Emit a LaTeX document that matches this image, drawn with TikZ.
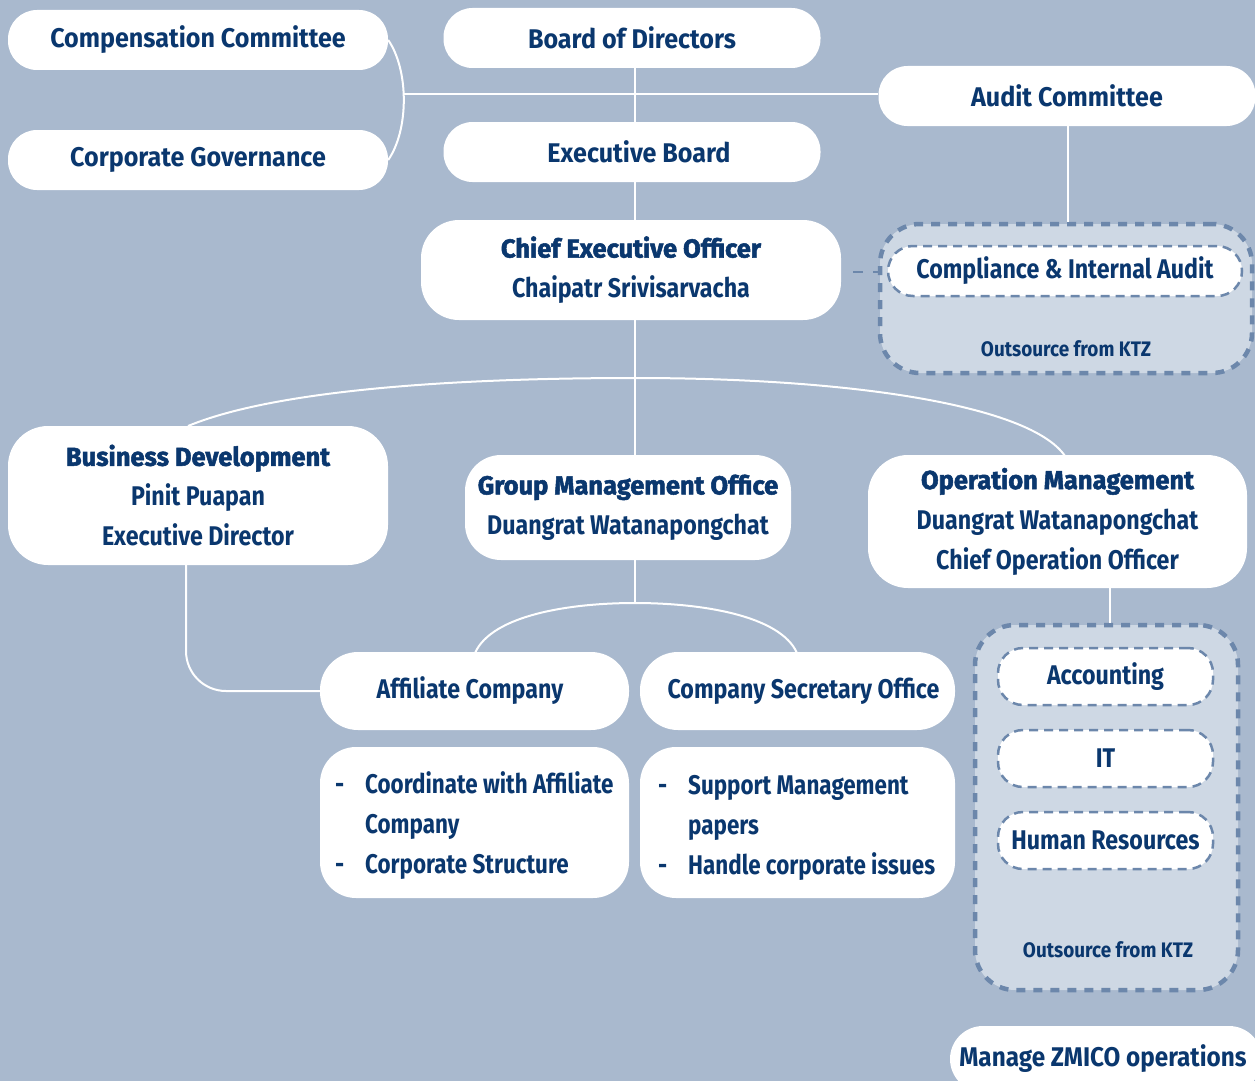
\documentclass[tikz,border=0pt]{standalone}
\usepackage{fontspec}
\newfontfamily\lab{Fira Sans}[FakeStretch=0.86]
\newfontfamily\labt{Fira Sans}[FakeStretch=0.93]
\newfontfamily\labd{Fira Sans}[FakeStretch=0.83]
\newfontfamily\labs{Fira Sans}[FakeStretch=0.9]
\newfontfamily\labh{Fira Sans}[FakeStretch=0.98,FakeBold=2]
\definecolor{bg}{RGB}{169,185,206}
\definecolor{navy}{RGB}{10,55,110}
\definecolor{lightfill}{RGB}{206,216,228}
\definecolor{dashc}{RGB}{108,135,171}
\newcommand{\rf}{\lab\bfseries\fontsize{27}{40}\selectfont}
\newcommand{\rft}{\labt\bfseries\fontsize{27}{40}\selectfont}
\newcommand{\rfd}{\labd\bfseries\fontsize{27}{40}\selectfont}
\newcommand{\bh}{\labh\bfseries\fontsize{26}{40}\selectfont}
\newcommand{\smf}{\labs\bfseries\fontsize{21}{26}\selectfont}
\tikzset{
  box/.style={fill=white, draw=none, inner sep=0pt, text=navy, font=\rf, align=center},
  pill/.style={box, rounded corners=29pt, minimum height=60pt, font=\rft},
  outerdash/.style={fill=lightfill, draw=dashc, line width=4.5pt, dash pattern=on 9pt off 8pt, rounded corners=40pt, inner sep=0pt},
  innerdash/.style={box, draw=dashc, line width=2.5pt, dash pattern=on 9pt off 6pt, rounded corners=25pt},
  conn/.style={draw=white, line width=2pt},
  txt/.style={text=navy, font=\rfd, inner sep=0pt, anchor=base west},
  smalltxt/.style={text=navy, font=\smf, inner sep=0pt}
}
\begin{document}
\begin{tikzpicture}[x=1pt,y=-1pt]
\useasboundingbox (0,0) rectangle (1255,1081);
\clip (0,0) rectangle (1255,1081);
\fill[bg] (0,0) rectangle (1255,1081);

\coordinate (br) at (403,94);
\coordinate (arcL) at (188,426);
\coordinate (arcTop) at (635,378);
\coordinate (arcR) at (1065,456);
\coordinate (gTop) at (635,603);
\coordinate (gL) at (475,653);
\coordinate (gR) at (797,653);
\coordinate (bdOut) at (186,565);

% top level
\node[pill, minimum width=380pt] (comp) at (198,40) {Compensation Committee};
\node[pill, minimum width=380pt] (gov) at (198,160) {Corporate Governance};
\node[pill, minimum width=377pt] (board) at (632,38) {Board of Directors};
\node[pill, minimum width=377pt] (audit) at (1067,96) {Audit Committee};
\node[pill, minimum width=377pt] (exec) at (632,152) {\hspace*{14pt}Executive Board};
\node[box, rounded corners=38pt, minimum width=420pt, minimum height=100pt] (ceo) at (631,270)
  {{\bh Chief Executive Officer}\\Chaipatr Srivisarvacha};

% compliance group
\node[outerdash, minimum width=372pt, minimum height=149pt] (compout) at (1066,298.5) {};
\node[innerdash, minimum width=354pt, minimum height=50pt] (compin) at (1065,271) {Compliance \& Internal Audit};
\node[smalltxt] (out1) at (1066,349) {Outsource from KTZ};

% second level
\node[box, rounded corners=40pt, minimum width=380pt, minimum height=139pt] (bd) at (198,495.5)
  {{\bh Business Development}\\Pinit Puapan\\Executive Director};
\node[box, rounded corners=36pt, minimum width=326pt, minimum height=105pt] (gmo) at (628,507.5)
  {{\bh Group Management Office}\\Duangrat Watanapongchat};
\node[box, rounded corners=40pt, minimum width=379pt, minimum height=133pt] (om) at (1057.5,521.5)
  {{\bh Operation Management}\\Duangrat Watanapongchat\\Chief Operation Officer};

% third level
\node[box, rounded corners=38pt, minimum width=309pt, minimum height=78pt] (aff) at (474.5,691) {\hspace*{-9pt}Affiliate Company};
\node[box, rounded corners=38pt, minimum width=315pt, minimum height=78pt] (cso) at (797.5,691) {\hspace*{12pt}Company Secretary Office};
\node[box, rounded corners=36pt, minimum width=309pt, minimum height=151pt] (affd) at (474.5,822.5) {};
\node[box, rounded corners=36pt, minimum width=315pt, minimum height=151pt] (csod) at (797.5,822.5) {};
\node[txt] (a1d) at (335,793) {-};
\node[txt] (a1) at (365,793) {Coordinate with Affiliate};
\node[txt] (a2) at (365,833) {Company};
\node[txt] (a3d) at (335,873) {-};
\node[txt] (a3) at (365,873) {Corporate Structure};
\node[txt] (c1d) at (658,794) {-};
\node[txt] (c1) at (688,794) {Support Management};
\node[txt] (c2) at (688,834) {papers};
\node[txt] (c3d) at (658,874) {-};
\node[txt] (c3) at (688,874) {Handle corporate issues};

% operations group
\node[outerdash, minimum width=263pt, minimum height=365pt] (opsout) at (1106.5,807.5) {};
\node[innerdash, minimum width=215pt, minimum height=57pt] (acc) at (1105.5,676.5) {Accounting};
\node[innerdash, minimum width=215pt, minimum height=57pt] (it) at (1105.5,758.5) {IT};
\node[innerdash, minimum width=215pt, minimum height=57pt] (hr) at (1105.5,840.5) {Human Resources};
\node[smalltxt] (out2) at (1108,950) {Outsource from KTZ};

\node[box, rounded corners=33pt, minimum width=312pt, minimum height=66pt, font=\labs\bfseries\fontsize{27}{40}\selectfont] (zmico) at (1106,1059) {\hspace*{-6pt}Manage ZMICO operations};

% connector lines
\draw[conn] (comp.east) .. controls (409,70) and (409,130) .. (gov.east);
\draw[conn] (br) -- (br -| audit.west);
\draw[conn] (board.south -| arcTop) -- (exec.north -| arcTop);
\draw[conn] (exec.south -| arcTop) -- (ceo.north -| arcTop);
\draw[conn] (ceo.south -| arcTop) -- (gmo.north -| arcTop);
\draw[conn] (arcL) .. controls (280,388) and (470,378) .. (arcTop) .. controls (850,378) and (1030,405) .. (arcR);
\draw[conn] (gmo.south -| gTop) -- (gTop);
\draw[conn] (gL) .. controls (492,615) and (570,603) .. (gTop) .. controls (700,603) and (780,615) .. (gR);
\draw[conn, rounded corners=40pt] (bdOut) |- (aff.west);
\draw[conn] (audit.south -| 1068,0) -- (compout.north -| 1068,0);
\draw[conn] (om.south -| 1110,0) -- (opsout.north -| 1110,0);
\draw[draw=dashc, line width=2.5pt, dash pattern=on 10pt off 10pt] ([xshift=12pt,yshift=-2pt]ceo.east) -- ([yshift=-2pt]ceo.east -| compout.west);
\end{tikzpicture}
\end{document}
